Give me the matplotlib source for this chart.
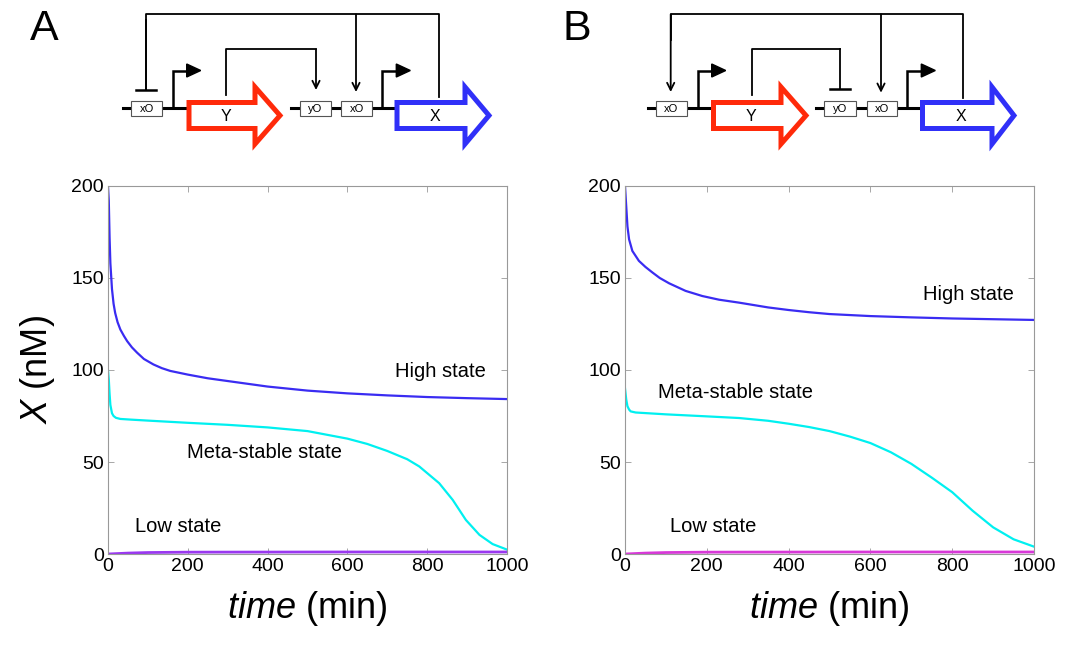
import numpy as np
import matplotlib
matplotlib.use("Agg")
import matplotlib.pyplot as plt
from matplotlib.patches import Polygon, Rectangle

plt.rcParams['font.family'] = ['Liberation Sans', 'DejaVu Sans']
plt.rcParams['mathtext.fontset'] = 'custom'
plt.rcParams['mathtext.it'] = 'Liberation Sans:italic'
plt.rcParams['mathtext.rm'] = 'Liberation Sans'

# ------------------------------------------------------------------
# Data (time in min, X in nM)
# ------------------------------------------------------------------
t_high_a = [0, 2, 4, 6, 10, 14, 18, 24, 31, 40, 48, 60, 73, 90, 114, 135, 156, 200, 250, 300,
            400, 500, 600, 700, 800, 900, 1000]
x_high_a = [200, 192, 172, 158, 144, 136, 131, 126, 122, 118.5, 115.7, 112.3, 109.4, 106, 103, 101, 99.5,
            97.5, 95.5, 94, 91, 88.8, 87.3, 86.2, 85.3, 84.7, 84.2]

t_meta_a = [0, 2, 4, 6, 10, 14, 20, 31, 60, 100, 200, 300, 400, 500, 600, 650, 700, 750, 780,
            830, 864, 897, 931, 964, 1000]
x_meta_a = [100, 95, 87, 81, 76.5, 75, 74, 73.4, 73, 72.5, 71.3, 70.2, 68.8, 66.8, 62.7, 59.8, 56, 51.5, 47.6,
            38.5, 29.4, 18.5, 10.4, 5.4, 2.4]

t_high_b = [0, 3, 6, 10, 18, 26, 34, 50, 67, 85, 108, 148, 189, 230, 279, 350, 400, 450, 500,
            600, 700, 800, 900, 1000]
x_high_b = [200, 189, 178, 171, 164.7, 162, 159.3, 156, 153, 150, 147.1, 143, 140.2, 138.2, 136.6, 134,
            132.6, 131.4, 130.4, 129.3, 128.6, 128, 127.6, 127.2]

t_meta_b = [0, 3, 6, 10, 14, 26, 100, 200, 279, 350, 400, 450, 500, 550, 600, 650, 700, 750, 800,
            850, 900, 950, 1000]
x_meta_b = [90, 84, 80.3, 78.5, 77.5, 76.9, 75.9, 74.8, 73.9, 72.4, 70.8, 69, 66.8, 63.8, 60.3, 55.3, 49,
            41.5, 33.6, 23.5, 14.5, 8, 4]

t_low = [0, 50, 100, 200, 400, 600, 800, 1000]
x_low = [0, 0.5, 0.8, 1.0, 1.05, 1.1, 1.1, 1.1]

x_ticks = [0, 200, 400, 600, 800, 1000]
y_ticks = [0, 50, 100, 150, 200]

BLUE = '#3a2cf2'
CYAN = '#00f0f0'
RED = '#ff2a0a'
GBLUE = '#3030f8'

fig = plt.figure(figsize=(10.66, 6.46), dpi=100)

# overlay in pixel coordinates for the circuit sketches
ov = fig.add_axes([0, 0, 1, 1])
ov.set_xlim(0, 1066)
ov.set_ylim(646, 0)
ov.axis('off')
ov.patch.set_alpha(0)

LW = 1.3


def block_arrow(x0, x1, x2, color, label, yc=115.5, hb=13, hh=28.5):
    pts = [(x0, yc - hb), (x1, yc - hb), (x1, yc - hh), (x2, yc),
           (x1, yc + hh), (x1, yc + hb), (x0, yc + hb)]
    ov.add_patch(Polygon(pts, closed=True, facecolor='white', edgecolor=color,
                         lw=3.6, joinstyle='miter', zorder=3))
    ov.text((x0 + x1) / 2 + 4, yc + 1, label, fontsize=11.5, ha='center', va='center', zorder=4)


def op_box(x0, x1, label):
    ov.add_patch(Rectangle((x0, 100.5), x1 - x0, 15, facecolor='white',
                           edgecolor='#555555', lw=0.8, zorder=3))
    ov.text((x0 + x1) / 2, 108.5, label, fontsize=8, ha='center', va='center', zorder=4)


def promoter(x):
    ov.plot([x, x, x + 15], [108, 70.5, 70.5], color='black', lw=1.8, zorder=3,
            solid_joinstyle='miter')
    ov.add_patch(Polygon([(x + 14, 64), (x + 28, 70.5), (x + 14, 77)],
                         closed=True, facecolor='black', edgecolor='black', zorder=3))


def arrow_down(x, y0, y1):
    ov.annotate('', xy=(x, y1), xytext=(x, y0),
                arrowprops=dict(arrowstyle='->', lw=LW, color='black',
                                mutation_scale=13, shrinkA=0, shrinkB=0))


def tee_down(x, y0, y1):
    ov.plot([x, x], [y0, y1], color='black', lw=LW)
    ov.plot([x - 10, x + 10], [y1, y1], color='black', lw=1.8)


# panel A circuit
ov.plot([123, 187], [108.3, 108.3], color='black', lw=2.2, zorder=2)
ov.plot([291, 395], [108.3, 108.3], color='black', lw=2.2, zorder=2)
ov.plot([145.7, 145.7, 439.3, 439.3], [89.5, 14.3, 14.3, 97], color='black', lw=LW)
tee_down(145.7, 20, 89.5)
arrow_down(356, 14.3, 92)
ov.plot([225.7, 225.7, 316], [95, 49.3, 49.3], color='black', lw=LW)
arrow_down(316, 49.3, 90)
op_box(131, 162, 'xO')
op_box(300, 331, 'yO')
op_box(341, 372, 'xO')
promoter(172.7)
promoter(382.3)
block_arrow(189, 255, 280, RED, 'Y')
block_arrow(397, 465, 489, GBLUE, 'X')

# panel B circuit
ov.plot([648, 711.7], [108.3, 108.3], color='black', lw=2.2, zorder=2)
ov.plot([816, 920], [108.3, 108.3], color='black', lw=2.2, zorder=2)
ov.plot([670.7, 670.7, 963.3, 963.3], [40, 14.3, 14.3, 98], color='black', lw=LW)
arrow_down(670.7, 14.3, 92)
arrow_down(881, 14.3, 92.7)
ov.plot([751.7, 751.7, 840], [95, 49.3, 49.3], color='black', lw=LW)
tee_down(840, 49.3, 89.3)
op_box(656, 686.7, 'xO')
op_box(824, 856, 'yO')
op_box(866.7, 897.3, 'xO')
promoter(697.7)
promoter(907.3)
block_arrow(713.5, 781, 806, RED, 'Y')
block_arrow(922.5, 992, 1014, GBLUE, 'X')

ov.text(44, 29, 'A', fontsize=31, ha='center', va='center')
ov.text(577, 29, 'B', fontsize=31, ha='center', va='center')

# ------------------------------------------------------------------
# time-course panels
# ------------------------------------------------------------------
panels = [
    ([0.1013, 0.1424, 0.3743, 0.5697], t_high_a, x_high_a, t_meta_a, x_meta_a, '#9a38f0',
     [(719, 99, 'High state'), (198, 55.4, 'Meta-stable state'), (68, 14.7, 'Low state')], True),
    ([0.5863, 0.1424, 0.3837, 0.5697], t_high_b, x_high_b, t_meta_b, x_meta_b, '#d838d8',
     [(729, 140.8, 'High state'), (81, 87.5, 'Meta-stable state'), (110, 14.7, 'Low state')], False),
]

for rect, th, xh, tm, xm, low_color, notes, first in panels:
    ax = fig.add_axes(rect)
    ax.plot(th, xh, color=BLUE, lw=1.6)
    ax.plot(tm, xm, color=CYAN, lw=1.6)
    ax.plot(t_low, x_low, color=low_color, lw=2.0)
    ax.set_xlim(0, 1000)
    ax.set_ylim(0, 200)
    ax.set_xticks(x_ticks)
    ax.set_yticks(y_ticks)
    ax.tick_params(direction='in', length=4, width=0.6, color='#999999',
                   top=True, right=True, labelsize=14, pad=3)
    for sp in ax.spines.values():
        sp.set_color('#999999')
        sp.set_linewidth(0.8)
    for x, y, s in notes:
        ax.text(x, y, s, fontsize=14.5, ha='left', va='center')
    ax.set_xlabel(r'$\it{time}$ (min)', fontsize=26, labelpad=10)
    if first:
        ax.set_ylabel(r'$\it{X}$ (nM)', fontsize=26, labelpad=10)

fig.savefig('out.png', dpi=100)
